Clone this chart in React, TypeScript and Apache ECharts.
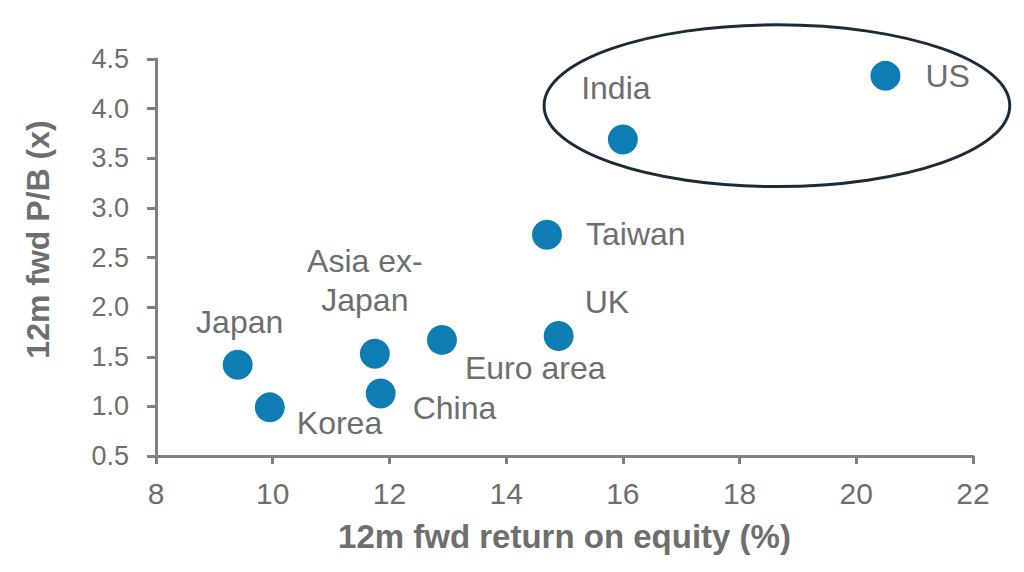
import React, { useEffect, useRef } from "react";
import * as echarts from "echarts";

const countries = ["US", "India", "Taiwan", "UK", "Euro area", "Asia ex-\nJapan", "China", "Japan", "Korea"];
const roe = [20.5, 16.0, 14.7, 14.9, 12.9, 11.75, 11.85, 9.4, 9.95];
const pb = [4.33, 3.69, 2.73, 1.71, 1.67, 1.53, 1.13, 1.42, 0.99];
// label offsets from point centre (px) and alignment
const labelDx = [40, -7, 39, 26, 23, -10, 32, 2, 27];
const labelDy = [0, -51, -1, -34, 28, -73, 15, -43, 16];
const labelAlign = ["left", "center", "left", "left", "left", "center", "left", "center", "left"];

const xTicks = { min: 8, max: 22, interval: 2 };
const yTicks = { min: 0.5, max: 4.5, interval: 0.5 };

// highlight ellipse in data space: centre and radii
const ellipseCenter = [18.64, 4.03];
const ellipseRadius = [3.99, 0.815];

const GREY = "#6e6e6e";
const AXIS = "#808080";
const DOT = "#0E7DB4";
const SYM = 30;
const FONT = "Liberation Sans, Arial, sans-serif";

export default function App() {
  const ref = useRef<HTMLDivElement>(null);
  useEffect(() => {
    if (!ref.current) return;
    const chart = echarts.init(ref.current, null, { renderer: "svg" });
    const data = countries.map((n, i) => ({
      name: n,
      value: [roe[i], pb[i]],
      label: {
        show: true,
        formatter: n,
        position: [SYM / 2 + labelDx[i], SYM / 2 + labelDy[i]],
        align: labelAlign[i],
        verticalAlign: "middle",
        color: GREY,
        fontSize: 32,
        lineHeight: 39,
        fontFamily: FONT,
      },
    }));
    chart.setOption({
      animation: false,
      backgroundColor: "#ffffff",
      grid: { left: 148, right: 43, top: 51, bottom: 108, containLabel: false },
      xAxis: {
        type: "value",
        min: xTicks.min,
        max: xTicks.max,
        interval: xTicks.interval,
        name: "12m fwd return on equity (%)",
        nameLocation: "middle",
        nameGap: 64,
        nameTextStyle: { color: GREY, fontSize: 33, fontWeight: "bold", fontFamily: FONT },
        axisLine: { show: true, onZero: false, lineStyle: { color: AXIS, width: 3 } },
        axisTick: { show: true, length: 8, lineStyle: { color: AXIS, width: 3 } },
        axisLabel: { color: GREY, fontSize: 30, margin: 22, fontFamily: FONT },
        splitLine: { show: false },
      },
      yAxis: {
        type: "value",
        min: yTicks.min,
        max: yTicks.max,
        interval: yTicks.interval,
        name: "12m fwd P/B (x)",
        nameLocation: "middle",
        nameGap: 102,
        nameTextStyle: { color: GREY, fontSize: 32, fontWeight: "bold", fontFamily: FONT, padding: [0, 0, 0, 36] },
        axisLine: { show: true, onZero: false, lineStyle: { color: AXIS, width: 3 } },
        axisTick: { show: true, length: 9, lineStyle: { color: AXIS, width: 3 } },
        axisLabel: {
          color: GREY,
          fontSize: 27,
          margin: 27,
          fontFamily: FONT,
          formatter: (v: number) => v.toFixed(1),
        },
        splitLine: { show: false },
      },
      series: [
        {
          type: "scatter",
          symbol: "circle",
          symbolSize: SYM,
          itemStyle: { color: DOT, opacity: 1 },
          data,
        },
      ],
    });
    const c = chart.convertToPixel({ gridIndex: 0 }, ellipseCenter) as number[];
    const e = chart.convertToPixel({ gridIndex: 0 }, [ellipseCenter[0] + ellipseRadius[0], ellipseCenter[1] + ellipseRadius[1]]) as number[];
    chart.setOption({
      graphic: [
        {
          type: "ellipse",
          shape: { cx: c[0], cy: c[1], rx: Math.abs(e[0] - c[0]), ry: Math.abs(c[1] - e[1]) },
          style: { fill: "none", stroke: "#1c2b3a", lineWidth: 3 },
          z: 10,
        },
      ],
    });
    return () => chart.dispose();
  }, []);
  return <div ref={ref} style={{ width: 1008, height: 556 }} />;
}
